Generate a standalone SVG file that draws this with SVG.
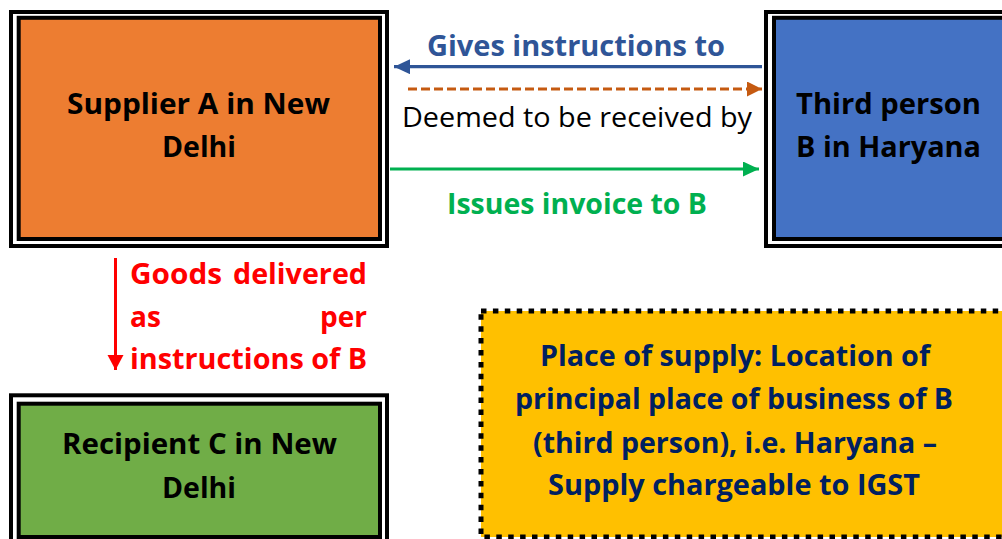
<svg xmlns="http://www.w3.org/2000/svg" width="1002" height="539" viewBox="0 0 1002 539">
<defs>
<style>
.outer{fill:#fff;stroke:#000;stroke-width:4}
.inner{stroke:#000;stroke-width:4}
.lbl{font-family:"Open Sans","Noto Sans","DejaVu Sans",sans-serif;font-weight:700;font-size:28px;text-anchor:middle}
.reg{font-family:"Open Sans","Noto Sans","DejaVu Sans",sans-serif;font-weight:400;font-size:28px;text-anchor:middle}
.red{font-family:"Open Sans","Noto Sans","DejaVu Sans",sans-serif;font-weight:700;font-size:28px;fill:#FF0000}
</style>
<marker id="hBlue" markerUnits="userSpaceOnUse" markerWidth="17" markerHeight="16" refX="16" refY="7.5" orient="auto"><path d="M0,0 L16,7.5 L0,15 z" fill="#2F5597"/></marker>
<marker id="hOrange" markerUnits="userSpaceOnUse" markerWidth="16" markerHeight="16" refX="15" refY="7.5" orient="auto"><path d="M0,0 L15,7.5 L0,15 z" fill="#C55A11"/></marker>
<marker id="hGreen" markerUnits="userSpaceOnUse" markerWidth="17" markerHeight="16" refX="16" refY="7.5" orient="auto"><path d="M0,0 L16,7.5 L0,15 z" fill="#00B050"/></marker>
<marker id="hRed" markerUnits="userSpaceOnUse" markerWidth="16" markerHeight="17" refX="15" refY="8" orient="auto"><path d="M0,0 L15,8 L0,16 z" fill="#FF0000"/></marker>
</defs>
<rect width="1002" height="539" fill="#fff"/>

<g id="supplierA">
<rect class="outer" x="11" y="12" width="376" height="234"/>
<rect class="inner" x="18.7" y="17.8" width="361.3" height="221.2" fill="#ED7D31"/>
<text class="lbl" x="198.5" y="114" fill="#000" textLength="263" lengthAdjust="spacingAndGlyphs">Supplier A in New</text>
<text class="lbl" x="199" y="157" fill="#000" textLength="74" lengthAdjust="spacingAndGlyphs">Delhi</text>
</g>

<g id="thirdPersonB">
<rect class="outer" x="766" y="12" width="260" height="234"/>
<rect class="inner" x="774" y="17.8" width="250" height="221.2" fill="#4472C4"/>
<text class="lbl" x="888.5" y="114" fill="#000" textLength="185" lengthAdjust="spacingAndGlyphs">Third person</text>
<text class="lbl" x="888.5" y="157" fill="#000" textLength="185" lengthAdjust="spacingAndGlyphs">B in Haryana</text>
</g>

<g id="recipientC">
<rect class="outer" x="11" y="395.3" width="376" height="160"/>
<rect class="inner" x="18.7" y="403.7" width="361.3" height="133.3" fill="#70AD47"/>
<text class="lbl" x="199.5" y="454" fill="#000" textLength="275" lengthAdjust="spacingAndGlyphs">Recipient C in New</text>
<text class="lbl" x="199" y="498" fill="#000" textLength="74" lengthAdjust="spacingAndGlyphs">Delhi</text>
</g>

<g id="placeOfSupply">
<rect x="481" y="311" width="540" height="226" fill="#FFC000" stroke="#000" stroke-width="5" stroke-dasharray="5.5 6.4"/>
<text class="lbl" x="735" y="366" fill="#002060" textLength="390" lengthAdjust="spacingAndGlyphs">Place of supply: Location of</text>
<text class="lbl" x="734" y="409" fill="#002060" textLength="438" lengthAdjust="spacingAndGlyphs">principal place of business of B</text>
<text class="lbl" x="735" y="453" fill="#002060" textLength="404" lengthAdjust="spacingAndGlyphs">(third person), i.e. Haryana –</text>
<text class="lbl" x="734" y="495" fill="#002060" textLength="372" lengthAdjust="spacingAndGlyphs">Supply chargeable to IGST</text>
</g>

<g id="connectors">
<line x1="762" y1="66.7" x2="394" y2="66.7" stroke="#2F5597" stroke-width="3.3" marker-end="url(#hBlue)"/>
<line x1="408" y1="89" x2="762" y2="89" stroke="#C55A11" stroke-width="3" stroke-dasharray="9 4" marker-end="url(#hOrange)"/>
<line x1="390" y1="169" x2="759" y2="169" stroke="#00B050" stroke-width="3" marker-end="url(#hGreen)"/>
<line x1="115.5" y1="258" x2="115.5" y2="370" stroke="#FF0000" stroke-width="3" marker-end="url(#hRed)"/>
<text class="lbl" x="576" y="56" fill="#2F5597" textLength="298" lengthAdjust="spacingAndGlyphs">Gives instructions to</text>
<text class="reg" x="577" y="127" fill="#000" textLength="350" lengthAdjust="spacingAndGlyphs">Deemed to be received by</text>
<text class="lbl" x="577" y="214" fill="#00B050" textLength="260" lengthAdjust="spacingAndGlyphs">Issues invoice to B</text>
<text class="red" x="130" y="284" textLength="92" lengthAdjust="spacingAndGlyphs">Goods</text>
<text class="red" x="233" y="284" textLength="134" lengthAdjust="spacingAndGlyphs">delivered</text>
<text class="red" x="130" y="327">as</text>
<text class="red" x="367" y="327" text-anchor="end">per</text>
<text class="red" x="130" y="369" textLength="237" lengthAdjust="spacingAndGlyphs">instructions of B</text>
</g>
</svg>
